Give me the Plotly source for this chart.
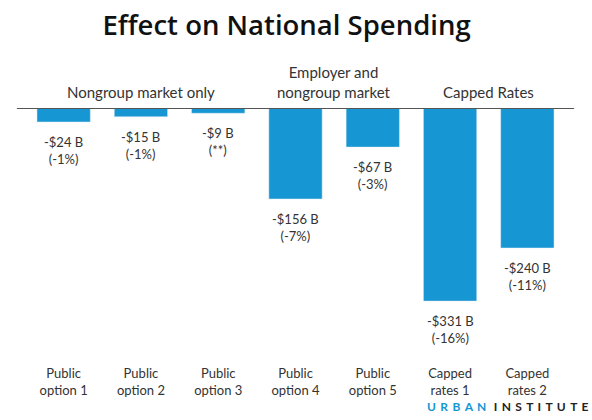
import plotly.graph_objects as go

categories = ["Public<br>option 1", "Public<br>option 2", "Public<br>option 3", "Public<br>option 4",
              "Public<br>option 5", "Capped<br>rates 1", "Capped<br>rates 2"]
values = [-24, -15, -9, -156, -67, -331, -240]
dollar_labels = ["-$24 B", "-$15 B", "-$9 B", "-$156 B", "-$67 B", "-$331 B", "-$240 B"]
pct_labels = ["(-1%)", "(-1%)", "(**)", "(-7%)", "(-3%)", "(-16%)", "(-11%)"]
groups = ["Nongroup market only", "Employer and<br>nongroup market", "Capped Rates"]
group_centers = [1, 3.5, 5.5]

BLUE = "#1696d2"
TXT = "#333333"
FONT = "Lato"

fig = go.Figure()
fig.add_trace(go.Bar(x=list(range(len(values))), y=values, marker_color=BLUE,
                     width=0.69, hoverinfo="skip"))

annotations = []
for i, v in enumerate(values):
    annotations.append(dict(x=i, y=v, xref="x", yref="y", text=f"{dollar_labels[i]}<br>{pct_labels[i]}",
                            showarrow=False, yanchor="top", yshift=-10,
                            font=dict(family=FONT, size=13, color=TXT)))
for g, c in zip(groups, group_centers):
    annotations.append(dict(x=c, y=1, xref="x", yref="paper", text=g, showarrow=False,
                            yanchor="bottom", yshift=5, font=dict(family=FONT, size=15, color=TXT)))

sep = "\u00a0\u2009"
urban = sep.join("URBAN")
inst = sep.join("INSTITUTE")
annotations.append(dict(x=0.739, y=-0.183, xref="paper", yref="paper", xanchor="left", yanchor="middle",
                        showarrow=False,
                        text=f"<b><span style='color:{BLUE}'>{urban}</span>\u00a0\u00a0\u2009{inst}</b>",
                        font=dict(family=FONT, size=12, color="#222222")))

fig.update_layout(
    width=592, height=420,
    margin=dict(l=25, r=26, t=108, b=60),
    paper_bgcolor="white", plot_bgcolor="white",
    showlegend=False,
    title=dict(text="Effect on National Spending", x=0.484, xanchor="center", y=0.94, yanchor="middle",
               font=dict(family="Open Sans", size=27.5, weight=600, color="#111111")),
    xaxis=dict(tickmode="array", tickvals=list(range(len(values))), ticktext=categories,
               range=[-0.5, 6.5], showgrid=False, zeroline=False, showline=False, ticks="",
               ticklabelstandoff=4,
               tickfont=dict(family=FONT, size=13, color=TXT)),
    yaxis=dict(range=[-432, 0], visible=False, showgrid=False, zeroline=False),
    annotations=annotations,
    shapes=[dict(type="line", xref="paper", yref="y", x0=-0.015, x1=1.015, y0=0, y1=0,
                 line=dict(color="#555555", width=2))],
)

fig.write_html("out.html")
